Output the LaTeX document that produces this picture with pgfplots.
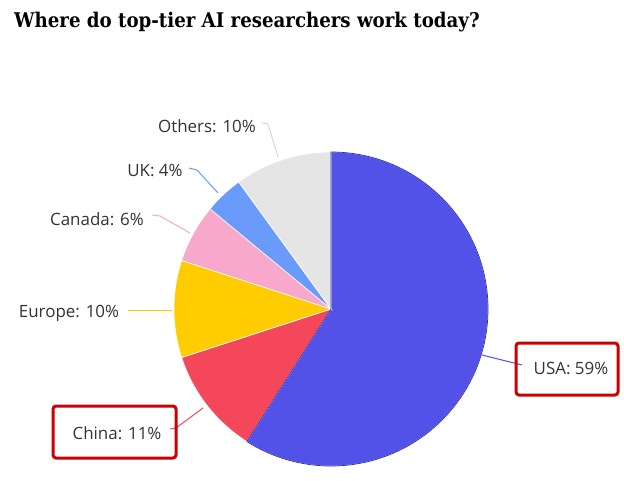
\documentclass[border=0pt]{standalone}
\usepackage{pgfplots}
\pgfplotsset{compat=1.18}
\usepackage{fontspec}
\setmainfont{Open Sans}
\newfontfamily\titlefont{DejaVu Serif Condensed}
\definecolor{usa}{HTML}{5252E8}
\definecolor{usaedge}{HTML}{2A2AA8}
\definecolor{china}{HTML}{F5475A}
\definecolor{europe}{HTML}{FFCC00}
\definecolor{canada}{HTML}{F7A8CB}
\definecolor{uk}{HTML}{6B9BFA}
\definecolor{others}{HTML}{E5E5E5}
\definecolor{othersline}{HTML}{D8D8D8}
\definecolor{labtext}{HTML}{333333}
\definecolor{boxred}{HTML}{CC0000}
% slice: #1 start angle, #2 percent, #3 colour
\newcommand{\slice}[3]{%
  \filldraw[fill=#3, draw=white, line width=0.6bp] (axis cs:331,309) -- ++(#1:157bp)
    arc[start angle=#1, delta angle={-3.6*#2}, radius=157bp] -- cycle;}
\begin{document}
\begin{tikzpicture}
\begin{axis}[hide axis, scale only axis, width=624bp, height=481bp,
  xmin=0, xmax=624, ymin=0, ymax=481, y dir=reverse, clip=false]
\path (axis cs:0,0) rectangle (axis cs:624,481);
% pie: USA 59, China 11, Europe 10, Canada 6, UK 4, Others 10
\slice{90}{59}{usa}
\slice{{90-3.6*59}}{11}{china}
\slice{{90-3.6*70}}{10}{europe}
\slice{{90-3.6*80}}{6}{canada}
\slice{{90-3.6*86}}{4}{uk}
\slice{{90-3.6*90}}{10}{others}
\draw[usaedge, line width=0.7bp] (axis cs:331,309) -- ++(90:157bp)
   arc[start angle=90, delta angle={-3.6*59}, radius=157bp] -- cycle;
% leader lines
\draw[othersline, line width=1bp] (axis cs:262,123) -- (axis cs:268,124) -- (axis cs:278,157);
\draw[uk, line width=1bp] (axis cs:189,168) -- (axis cs:197,170) -- (axis cs:218,193);
\draw[canada, line width=1bp] (axis cs:152,215) -- (axis cs:160,216) -- (axis cs:190,233);
\draw[europe, line width=1bp] (axis cs:128,310) -- (axis cs:172,310);
\draw[china, line width=1bp] (axis cs:170,429) -- (axis cs:176,428) -- (axis cs:203,408);
\draw[usa, line width=1bp] (axis cs:482,355) -- (axis cs:522,365);
% boxes
\draw[boxred, line width=3bp, rounded corners=3bp] (axis cs:53,406) rectangle (axis cs:176,458);
\draw[boxred, line width=3bp, rounded corners=3bp] (axis cs:516,343) rectangle (axis cs:618,395);
% labels
\begin{scope}[every node/.style={text=labtext, font=\fontsize{17}{20}\selectfont, inner sep=0pt}]
\node at (axis cs:207,126) {Others: 10\%};
\node at (axis cs:155,170) {UK: 4\%};
\node at (axis cs:97,219) {Canada: 6\%};
\node at (axis cs:69,313) {Europe: 10\%};
\node at (axis cs:117,433) {China: 11\%};
\node at (axis cs:571,368) {USA: 59\%};
\end{scope}
\node[anchor=base west, inner sep=0pt, font=\titlefont\bfseries\fontsize{20.3}{25}\selectfont]
  at (axis cs:14,28) {Where do top-tier AI researchers work today?};
\end{axis}
\end{tikzpicture}
\end{document}
